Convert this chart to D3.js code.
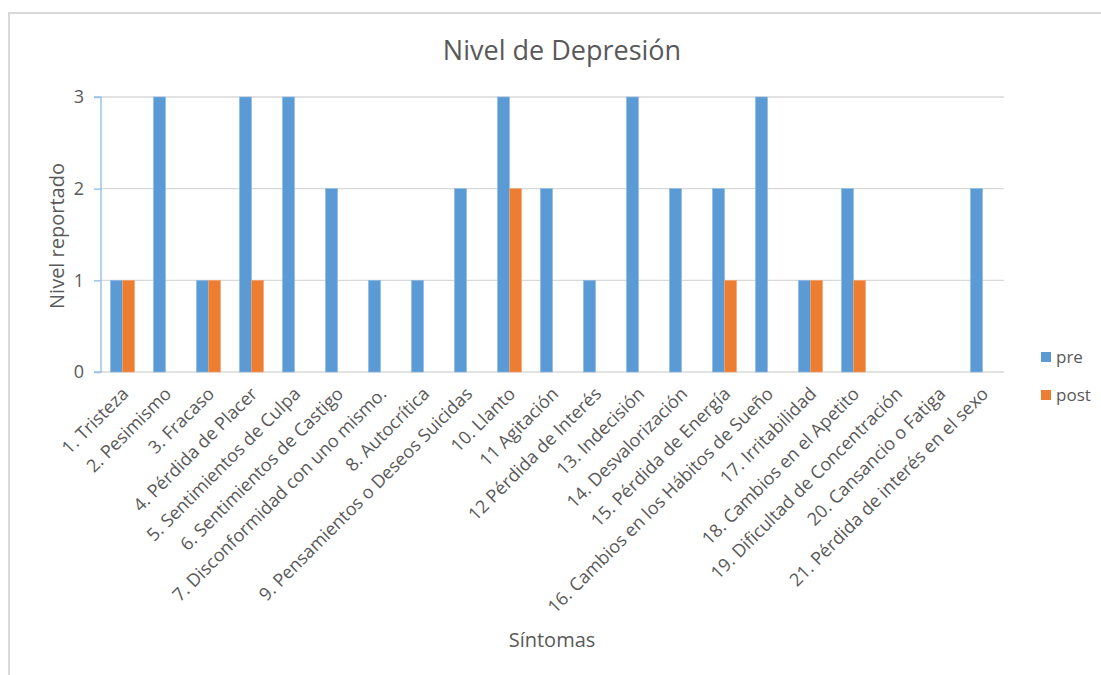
<!DOCTYPE html>
<html>
<head>
<meta charset="utf-8">
<script src="https://cdn.jsdelivr.net/npm/d3@7"></script>
<style>
  html, body { margin: 0; padding: 0; background: #fff; }
  svg { display: block; }
  svg text { font-family: "Open Sans", "Noto Sans", sans-serif; }
</style>
</head>
<body>
<svg id="chart" width="1101" height="675"></svg>
<script>
// Síntomas del inventario de depresión
const categories = [
  "1. Tristeza", "2. Pesimismo", "3. Fracaso", "4. Pérdida de Placer",
  "5. Sentimientos de Culpa", "6. Sentimientos de Castigo",
  "7. Disconformidad con uno mismo.", "8. Autocrítica",
  "9. Pensamientos o Deseos Suicidas", "10. Llanto", "11 Agitación",
  "12 Pérdida de Interés", "13. Indecisión", "14. Desvalorización",
  "15. Pérdida de Energía", "16. Cambios en los Hábitos de Sueño",
  "17. Irritabilidad", "18. Cambios en el Apetito",
  "19. Dificultad de Concentración", "20. Cansancio o Fatiga",
  "21. Pérdida de interés en el sexo"
];
const preValues  = [1, 3, 1, 3, 3, 2, 1, 1, 2, 3, 2, 1, 3, 2, 2, 3, 1, 2, 0, 0, 2];
const postValues = [1, 0, 1, 1, 0, 0, 0, 0, 0, 2, 0, 0, 0, 0, 1, 0, 1, 1, 0, 0, 0];
const seriesNames = ["pre", "post"];
const yTicks = [0, 1, 2, 3];

const colors = { pre: "#5b9bd5", post: "#ed7d31" };
const textColor = "#595959";

const svg = d3.select("#chart");

// Chart frame
svg.append("rect")
  .attr("x", 9).attr("y", 13)
  .attr("width", 1110).attr("height", 680)
  .attr("fill", "#fff")
  .attr("stroke", "#d9d9d9").attr("stroke-width", 2);

const plot = { left: 101, right: 1004, top: 97, bottom: 372 };

const x0 = d3.scaleBand()
  .domain(categories)
  .range([plot.left, plot.right])
  .paddingInner(0).paddingOuter(0);

const x1 = d3.scaleBand()
  .domain(seriesNames)
  .range([0, x0.bandwidth()])
  .paddingInner(0).paddingOuter(0.79);

const y = d3.scaleLinear().domain([0, 3]).range([plot.bottom, plot.top]);

// Gridlines
svg.append("g")
  .selectAll("line")
  .data(yTicks)
  .join("line")
  .attr("x1", plot.left).attr("x2", plot.right)
  .attr("y1", d => y(d)).attr("y2", d => y(d))
  .attr("stroke", "#d9d9d9").attr("stroke-width", 1.3);

// Bars
const rows = categories.map((c, i) => ({ cat: c, pre: preValues[i], post: postValues[i] }));
const groups = svg.append("g")
  .selectAll("g")
  .data(rows)
  .join("g")
  .attr("transform", d => `translate(${x0(d.cat)},0)`);

groups.selectAll("rect")
  .data(d => seriesNames.map(k => ({ key: k, value: d[k] })).filter(v => v.value > 0))
  .join("rect")
  .attr("x", d => x1(d.key))
  .attr("width", x1.bandwidth())
  .attr("y", d => y(d.value))
  .attr("height", d => y(0) - y(d.value))
  .attr("fill", d => colors[d.key])
  .attr("stroke", d => d.key === "pre" ? "#8db8e3" : "#f2a474")
  .attr("stroke-width", 0.6);

// Y axis
const yAxis = d3.axisLeft(y).tickValues(yTicks).tickSize(7).tickPadding(10).tickFormat(d3.format("d"));
const yG = svg.append("g")
  .attr("transform", `translate(${plot.left},0)`)
  .call(yAxis)
  .attr("font-family", null);
yG.select(".domain").attr("stroke", "#9dc3e6").attr("stroke-width", 1.5).attr("d", `M-7,${plot.top}H0V${plot.bottom}H-7`);
yG.selectAll(".tick line").attr("stroke", "#9dc3e6").attr("stroke-width", 1.5);
yG.selectAll(".tick text")
  .attr("fill", textColor)
  .style("font-size", "18px");

// X axis labels
const xAxis = d3.axisBottom(x0).tickSize(0).tickPadding(0);
const xG = svg.append("g")
  .attr("transform", `translate(0,${plot.bottom})`)
  .call(xAxis)
  .attr("font-family", null);
xG.select(".domain").remove();
xG.selectAll(".tick text")
  .attr("fill", textColor)
  .style("font-size", "18px")
  .attr("text-anchor", "end")
  .attr("dy", null)
  .attr("y", 0)
  .attr("transform", "translate(7,23) rotate(-45)");

// Title
svg.append("text")
  .attr("x", 562).attr("y", 60)
  .attr("text-anchor", "middle")
  .attr("fill", textColor)
  .style("font-size", "27px")
  .text("Nivel de Depresión");

// Axis titles
svg.append("text")
  .attr("transform", "translate(64,236) rotate(-90)")
  .attr("text-anchor", "middle")
  .attr("fill", textColor)
  .style("font-size", "20px")
  .text("Nivel reportado");

svg.append("text")
  .attr("x", 552).attr("y", 647)
  .attr("text-anchor", "middle")
  .attr("fill", textColor)
  .style("font-size", "20px")
  .text("Síntomas");

// Legend
const legend = svg.append("g")
  .selectAll("g")
  .data(seriesNames)
  .join("g")
  .attr("transform", (d, i) => `translate(1041,${352 + i * 38})`);
legend.append("rect")
  .attr("width", 10).attr("height", 10)
  .attr("fill", d => colors[d]);
legend.append("text")
  .attr("x", 15).attr("y", 11)
  .attr("fill", textColor)
  .style("font-size", "17px")
  .text(d => d);
</script>
</body>
</html>
